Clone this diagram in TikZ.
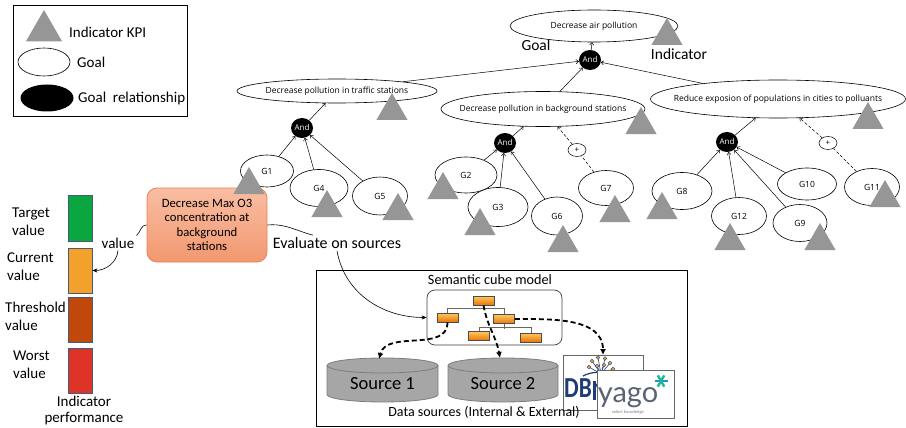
\documentclass[tikz,border=0pt]{standalone}
\usepackage{fontspec}
\setmainfont{Carlito}
\newfontfamily\smallfont{Open Sans}
\newfontfamily\logofont{Lato}
\usetikzlibrary{shapes.geometric,arrows.meta}
% zero-width label so that an ellipse keeps its own minimum size
\newcommand\gtxt[1]{\makebox[0pt]{#1}}
\newcommand\fs[2]{\fontsize{#1}{#2}\selectfont}

\definecolor{kpigray}{RGB}{150,150,150}
\definecolor{boxtop}{RGB}{249,190,162}
\definecolor{boxbot}{RGB}{242,152,112}
\definecolor{boxedge}{RGB}{233,128,84}
\definecolor{bargreen}{RGB}{10,166,64}
\definecolor{barorange}{RGB}{242,161,44}
\definecolor{barbrown}{RGB}{192,72,10}
\definecolor{barred}{RGB}{222,52,40}
\definecolor{barframe}{RGB}{70,90,125}
\definecolor{cylfill}{RGB}{166,166,166}
\definecolor{cyledge}{RGB}{125,125,125}
\definecolor{orgtop}{RGB}{255,200,95}
\definecolor{orgbot}{RGB}{232,118,10}
\definecolor{dbblue}{RGB}{30,60,120}
\definecolor{dborange}{RGB}{245,166,35}
\definecolor{yagogray}{RGB}{90,100,115}
\definecolor{yagoblue}{RGB}{40,140,210}
\definecolor{yagoteal}{RGB}{30,185,150}

\begin{document}
\begin{tikzpicture}[x=1pt,y=1pt,
  goal/.style={ellipse, draw, line width=0.6pt, fill=white, inner sep=0pt, font=\smallfont\fs{8.5}{10}},
  andnode/.style={ellipse, fill=black, text=white, inner sep=0pt, minimum width=22pt, minimum height=20pt, font=\smallfont\fs{8}{9}},
  kpi/.style={regular polygon, regular polygon sides=3, fill=kpigray, inner sep=0pt, minimum size=36pt},
  link/.style={line width=0.5pt, -{To[length=3pt,width=4.5pt]}},
  optlink/.style={link, dash pattern=on 3pt off 2pt},
  plusnode/.style={ellipse, draw, line width=0.5pt, fill=white, inner sep=0pt, minimum width=18pt, minimum height=13pt, font=\smallfont\fs{8}{9}},
  txt/.style={inner sep=0pt, font=\fs{15}{18}},
  bar/.style={draw=barframe, line width=0.8pt, minimum width=24pt, minimum height=45pt, inner sep=0pt},
  orgbox/.style={draw=black!70, line width=0.6pt, top color=orgtop, bottom color=orgbot, minimum width=21pt, minimum height=9pt, inner sep=0pt},
  orgline/.style={draw=black!60, line width=0.5pt},
  dsarrow/.style={line width=1.8pt, dash pattern=on 5pt off 3pt, -{Latex[length=6pt,width=6pt]}},
  bentline/.style={line width=0.6pt},
]
\path[use as bounding box] (0,0) rectangle (906,-428);

% ---------- legend ----------
\node[draw, line width=0.8pt, minimum width=174pt, minimum height=111pt, inner sep=0pt, anchor=north west] (legend) at (13,-5) {};
\node[kpi, minimum size=42pt] (lgkpi) at (44,-31) {};
\node[txt, anchor=west] (lgkpit) at (69,-32) {Indicator KPI};
\node[goal, minimum width=52pt, minimum height=28pt] (lggoal) at (44,-62) {};
\node[txt, anchor=west] (lggoalt) at (77,-62) {Goal};
\node[andnode, minimum width=53pt, minimum height=27pt] (lgand) at (47,-98) {};
\node[txt, anchor=west] (lgandt) at (78,-99) {Goal\ \ relationship};

% ---------- goal model ----------
\node[goal, minimum width=168pt, minimum height=32pt] (top) at (594,-26) {\gtxt{Decrease air pollution}};
\node[txt, font=\fs{15.5}{18}] (goallbl) at (536,-45) {Goal};
\node[txt, font=\fs{15.5}{18}] (indlbl) at (679,-54) {Indicator};
\node[andnode] (a0) at (590,-60) {And};

\node[goal, minimum width=200pt, minimum height=24pt] (trf) at (337,-91) {\gtxt{Decrease pollution in traffic stations}};
\node[goal, minimum width=204pt, minimum height=35pt] (bg) at (543,-109) {\gtxt{Decrease pollution in background stations}};
\node[goal, minimum width=255pt, minimum height=38pt] (rex) at (778,-99) {\gtxt{Reduce exposion of populations in cities to polluants}};

\node[andnode] (a1) at (302,-128) {And};
\node[andnode] (a2) at (505,-143) {And};
\node[andnode] (a3) at (727,-142) {And};

\node[goal, minimum width=53pt, minimum height=32pt] (g1) at (267,-171) {G1};
\node[goal, minimum width=58pt, minimum height=37pt] (g4) at (319,-188) {G4};
\node[goal, minimum width=55pt, minimum height=38pt] (g5) at (380,-196) {G5};
\node[goal, minimum width=62pt, minimum height=36pt] (g2) at (466,-175) {G2};
\node[goal, minimum width=60pt, minimum height=39pt] (g3) at (498,-207) {G3};
\node[goal, minimum width=51pt, minimum height=38pt] (g6) at (557,-216) {G6};
\node[goal, minimum width=55pt, minimum height=35pt] (g7) at (606,-188) {G7};
\node[goal, minimum width=60pt, minimum height=37pt] (g8) at (682,-191) {G8};
\node[goal, minimum width=55pt, minimum height=37pt] (g12) at (739,-216) {G12};
\node[goal, minimum width=54pt, minimum height=37pt] (g9) at (800,-223) {G9};
\node[goal, minimum width=59pt, minimum height=32pt] (g10) at (807,-184) {G10};
\node[goal, minimum width=55pt, minimum height=37pt] (g11) at (872,-187) {G11};

\node[plusnode] (p1) at (577,-150) {+};
\node[plusnode] (p2) at (828,-143) {+};

% decomposition links
\draw[link] (a0) -- (top);
\draw[link] (trf.8) -- (a0);
\draw[link] (bg) -- (a0);
\draw[link] (rex) -- (a0);
\draw[link] (a1) -- (trf);
\draw[link] (a2) -- (bg);
\draw[link] (a3) -- (rex);
\draw[link] (g1) -- (a1);
\draw[link] (g4) -- (a1);
\draw[link] (g5) -- (a1);
\draw[link] (g2) -- (a2);
\draw[link] (g3) -- (a2);
\draw[link] (g6) -- (a2);
\draw[link] (g8) -- (a3);
\draw[link] (g12) -- (a3);
\draw[link] (g9) -- (a3);
\draw[link] (g10) -- (a3);
% contribution links
\draw[line width=0.5pt, dash pattern=on 3pt off 2pt] (g7) -- (p1);
\draw[optlink] (p1) -- (bg);
\draw[line width=0.5pt, dash pattern=on 3pt off 2pt] (g11) -- (p2);
\draw[optlink] (p2) -- (rex);

% ---------- indicator panel ----------
\node[rounded corners=10pt, draw=boxedge, line width=0.8pt, top color=boxtop, bottom color=boxbot,
      minimum width=120pt, minimum height=74pt, inner sep=0pt, align=center, font=\fs{12.7}{14.5}]
      (kpibox) at (207,-225) {Decrease Max O3\\concentration at\\background\\stations};

% KPI triangles
\node[kpi] (ktop) at (667,-36) {};
\node[kpi] (ktrf) at (392,-111) {};
\node[kpi] (kbg) at (641,-125) {};
\node[kpi] (krex) at (868,-120) {};
\node[kpi] (kg1) at (249,-185) {};
\node[kpi] (kg4) at (327,-208) {};
\node[kpi] (kg5) at (398,-211) {};
\node[kpi] (kg2) at (443,-190) {};
\node[kpi] (kg3) at (480,-226) {};
\node[kpi] (kg6) at (563,-243) {};
\node[kpi] (kg7) at (615,-213) {};
\node[kpi] (kg8) at (662,-210) {};
\node[kpi] (kg12) at (730,-241) {};
\node[kpi] (kg9) at (820,-241) {};
\node[kpi] (kg11) at (885,-198) {};

% performance scale
\node[bar, fill=bargreen, minimum height=46pt] (btarget) at (80,-218) {};
\node[bar, fill=barorange] (bcurrent) at (80,-270.5) {};
\node[bar, fill=barbrown] (bthreshold) at (80,-319.5) {};
\node[bar, fill=barred] (bworst) at (80,-370.5) {};
\node[txt, anchor=west, align=left] (ltarget) at (12,-222) {Target\\value};
\node[txt, anchor=west, align=left] (lcurrent) at (7,-267) {Current\\value};
\node[txt, anchor=west, align=left] (lthreshold) at (5,-316) {Threshold\\value};
\node[txt, anchor=west, align=left] (lworst) at (13,-365) {Worst\\value};
\node[txt, align=center, font=\fs{15}{16}] (lperf) at (84,-410) {Indicator\\performance};

\node[txt, inner sep=2pt] (val) at (118,-243) {value};
\draw[bentline] (kpibox.west) to[out=175,in=40] (val.north east);
\draw[bentline, -{Stealth[length=5pt,width=4pt]}] (val.south) to[out=-95,in=0] (bcurrent.east);

\node[txt, inner sep=2pt, font=\fs{16}{18}] (ev) at (337,-243) {Evaluate on sources};
\draw[bentline] (kpibox.east) to[out=5,in=165] (ev.162);

% ---------- data sources ----------
\node[draw, line width=0.8pt, minimum width=371pt, minimum height=156pt, inner sep=0pt, anchor=north west] (dsframe) at (316,-270) {};
\node[txt, font=\fs{14.2}{16}] (semt) at (490,-280) {Semantic cube model};
\node[draw=black!75, line width=0.7pt, rounded corners=8pt, fill=white, minimum width=135pt, minimum height=55pt, inner sep=0pt] (cube) at (494.5,-317.5) {};
\draw[bentline, -{Stealth[length=5pt,width=4pt]}] (ev.south) to[out=-80,in=180] (cube.west);

% hierarchy of the cube model
\node[orgbox] (ob0) at (483.5,-300.5) {};
\node[orgbox] (ob1) at (447.5,-317.5) {};
\node[orgbox] (ob2) at (504,-319) {};
\node[orgbox] (ob3) at (479,-336) {};
\node[orgbox] (ob4) at (531,-337.5) {};
\draw[orgline] (ob0.south) -- ++(0,-4);
\draw[orgline] (ob1.north) -- ++(0,4) -| (ob2.north);
\draw[orgline] (ob2.south) -- ++(0,-5);
\draw[orgline] (ob3.north) -- ++(0,4) -| (ob4.north);

% internal sources
\filldraw[fill=cylfill, draw=cyledge, line width=0.8pt] (327,-365.5) -- (327,-394.5)
  arc[start angle=180, end angle=360, x radius=55.5, y radius=7.5] -- (438,-365.5)
  arc[start angle=0, end angle=180, x radius=55.5, y radius=7.5] -- cycle;
\draw[cyledge, line width=0.8pt] (327,-365.5) arc[start angle=180, end angle=360, x radius=55.5, y radius=7.5];
\node[txt, font=\fs{18.5}{20}] (s1) at (382.5,-384) {Source 1};
\coordinate (s1top) at (379,-359);

\filldraw[fill=cylfill, draw=cyledge, line width=0.8pt] (448,-365.5) -- (448,-394.5)
  arc[start angle=180, end angle=360, x radius=55, y radius=7.5] -- (558,-365.5)
  arc[start angle=0, end angle=180, x radius=55, y radius=7.5] -- cycle;
\draw[cyledge, line width=0.8pt] (448,-365.5) arc[start angle=180, end angle=360, x radius=55, y radius=7.5];
\node[txt, font=\fs{18.5}{20}] (s2) at (503,-384) {Source 2};
\coordinate (s2top) at (500,-358);

% external sources: DBpedia card
\node[draw=black!60, line width=0.6pt, fill=white, minimum width=80pt, minimum height=55pt, inner sep=0pt, anchor=north west] (dbp) at (563,-355) {};
\coordinate (dbtop) at (603,-355);
\node[inner sep=0pt, anchor=west, text=dbblue] (dbtxt) at (564,-388) {\scalebox{0.8}[1]{\bfseries\fs{29}{29}DB}};
\fill[dbblue] (592.5,-381) rectangle (595.5,-400);
\draw[dbblue, line width=2.6pt] (595,-384.5) arc[start angle=90, end angle=0, x radius=4, y radius=4.5];
\draw[dbblue, line width=1.2pt] (583,-376) .. controls (592,-371) and (606,-371) .. (614,-376);
\foreach \p in {(589,-367),(592,-361),(598,-357.5),(605,-358.5),(610,-363),(613,-369),(597,-366),(604,-365)}
  \draw[dbblue, line width=0.6pt] (601,-374) -- \p;
\foreach \p in {(589,-367),(592,-361),(598,-357.5),(605,-358.5),(610,-363),(613,-369),(597,-366),(604,-365)}
  \filldraw[fill=dborange, draw=dbblue, line width=0.4pt] \p circle (1.8);

% external sources: YAGO card
\node[draw=black!60, line width=0.6pt, fill=white, minimum width=77pt, minimum height=48pt, inner sep=0pt, anchor=north west] (yg) at (597,-370) {};
\node[inner sep=0pt, text=yagogray, font=\logofont\fs{29}{29}] (ygt) at (628,-397.5) {yago};
\foreach \a/\c in {0/yagoblue,60/yagoteal,120/yagoteal}
  \draw[\c, line width=2.4pt] (661,-381) ++(\a:6.5) -- ++(\a+180:13);
\node[inner sep=0pt, text=gray, font=\fs{4.5}{5}] (ygsub) at (628,-412.5) {select knowledge};

\draw[dsarrow] (ob1.south) to[out=-90,in=75] (s1top);
\draw[dsarrow] (ob0.south) to[out=-80,in=100] (s2top);
\draw[dsarrow] (ob2.east) to[out=0,in=90] (dbtop);

\node[txt, font=\fs{14}{16}] (dstxt) at (484,-412) {Data sources (Internal \& External)};
\end{tikzpicture}
\end{document}
